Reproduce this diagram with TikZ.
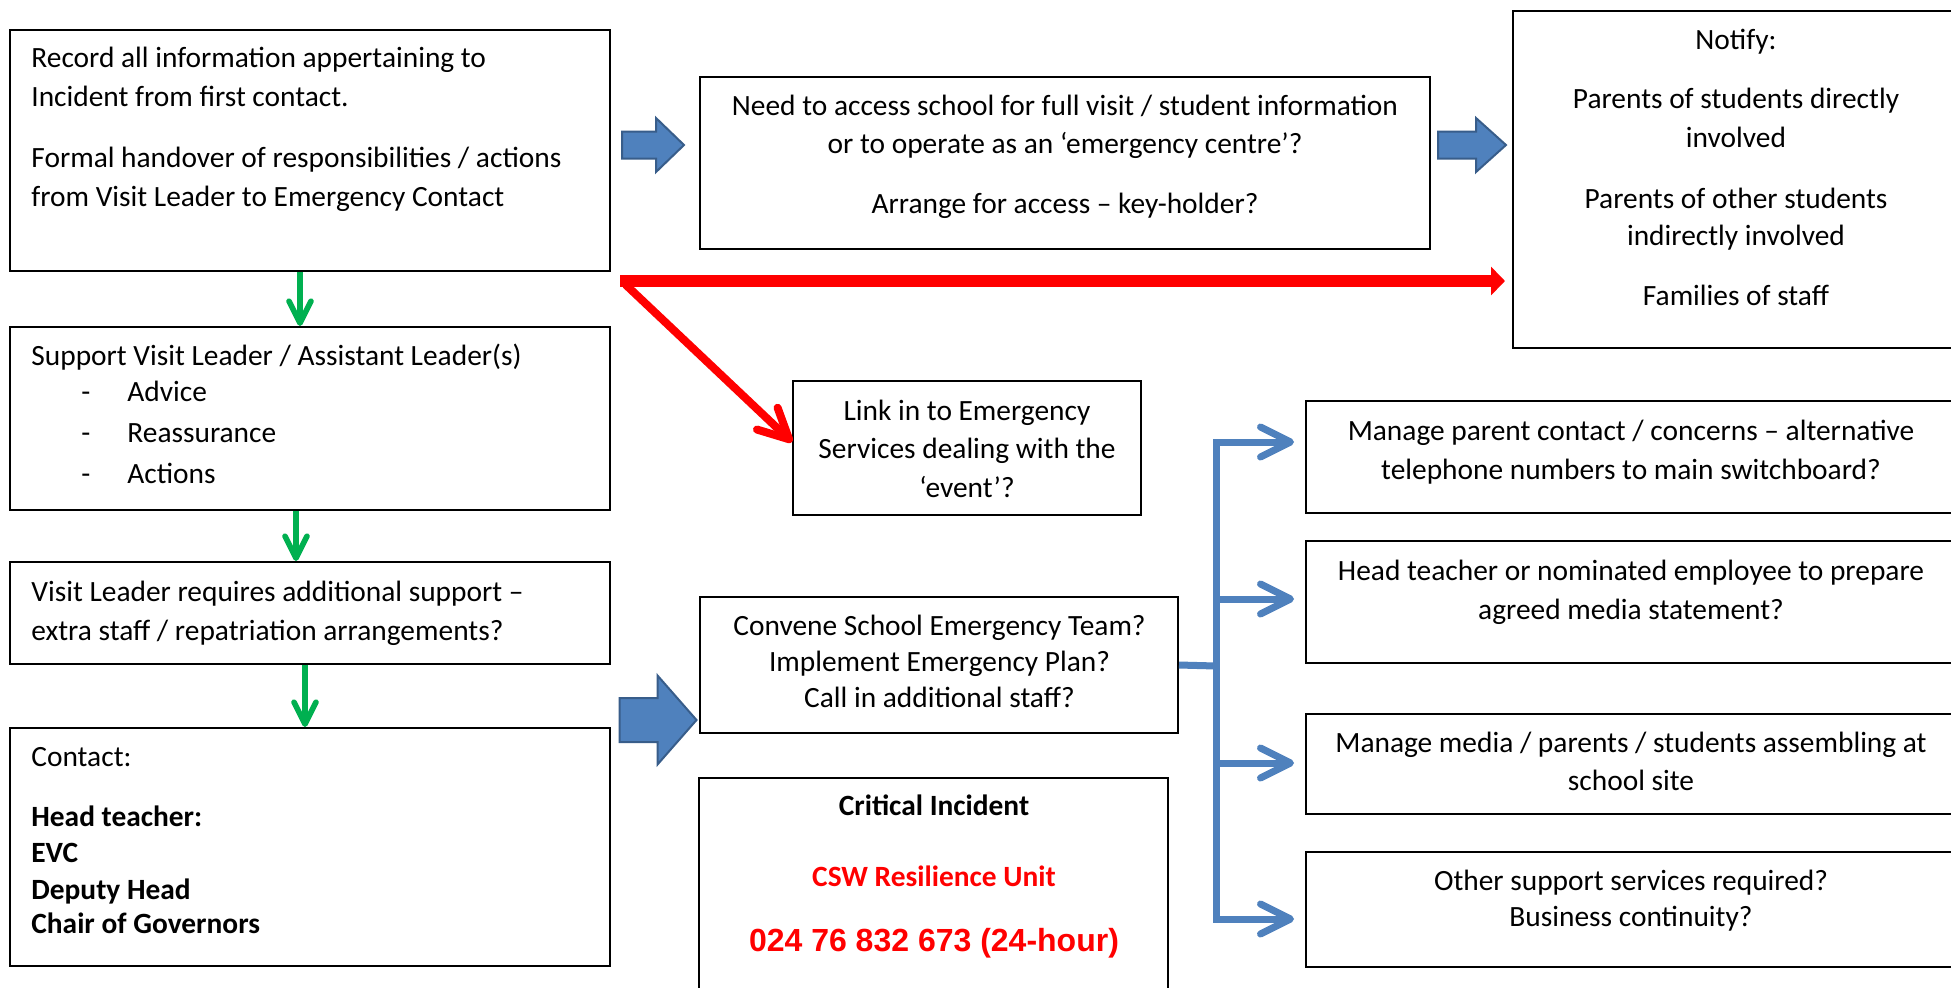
\documentclass[tikz,border=0pt]{standalone}
\usepackage{fontspec}
\setmainfont{Carlito}
\newfontfamily\arialfont{Liberation Sans}
\usetikzlibrary{arrows.meta,fit,calc}
\definecolor{fatfill}{HTML}{4F81BD}
\definecolor{fatedge}{HTML}{385D8A}
\definecolor{grn}{HTML}{00B050}
\definecolor{rd}{HTML}{FF0000}
\begin{document}
\begin{tikzpicture}[x=0.5pt,y=-0.5pt,
  box/.style={draw=black, line width=1pt, inner sep=0pt},
  tl/.style={inner sep=0pt, anchor=base west, font=\fontsize{14.7}{18}\selectfont},
  tc/.style={inner sep=0pt, anchor=base, font=\fontsize{14.7}{18}\selectfont},
  fat/.style={fill=fatfill, draw=fatedge, line width=1pt, line join=miter},
  garrow/.style={draw=grn, line width=2.8pt, -{Straight Barb[length=11pt,width=11pt,round]}},
  rline/.style={draw=rd, line width=6pt, -{Triangle[length=7pt,width=14pt]}},
  rdiag/.style={draw=rd, line width=4pt, line cap=round, -{Straight Barb[length=15pt,width=15pt,round]}},
  barrow/.style={draw=fatfill, line width=3.5pt, -{Straight Barb[length=15pt,width=15pt,round]}},
]
\useasboundingbox (0,0) rectangle (1951,987);
\fill[white] (0,0) rectangle (1951,987);

% boxes
\node[box, fit={(10,30)(610,271)}] (b1) {};
\node[box, fit={(700,77)(1430,249)}] (b2) {};
\node[box, fit={(1513,11)(1962,348)}] (b3) {};
\node[box, fit={(10,327)(610,510)}] (b4) {};
\node[box, fit={(10,562)(610,664)}] (b5) {};
\node[box, fit={(10,728)(610,966)}] (b6) {};
\node[box, fit={(700,597)(1178,733)}] (b7) {};
\node[box, fit={(699,778)(1168,1000)}] (b8) {};
\node[box, fit={(793,381)(1141,515)}] (b9) {};
\node[box, fit={(1306,401)(1962,513)}] (b10) {};
\node[box, fit={(1306,541)(1962,663)}] (b11) {};
\node[box, fit={(1306,714)(1962,814)}] (b12) {};
\node[box, fit={(1306,852)(1962,967)}] (b13) {};

% texts box 1
\node[tl] (t1a) at (31,67.5) {Record all information appertaining to};
\node[tl] (t1b) at (31,106) {Incident from first contact.};
\node[tl] (t1c) at (31,167) {Formal handover of responsibilities / actions};
\node[tl] (t1d) at (31,206) {from Visit Leader to Emergency Contact};
% box 2
\node[tc] (t2a) at (1065,115) {Need to access school for full visit / student information};
\node[tc] (t2b) at (1065,153) {or to operate as an ‘emergency centre’?};
\node[tc] (t2c) at (1065,213) {Arrange for access – key-holder?};
% box 3
\node[tc] (t3a) at (1736,49) {Notify:};
\node[tc] (t3b) at (1736,108.5) {Parents of students directly};
\node[tc] (t3c) at (1736,147) {involved};
\node[tc] (t3d) at (1736,208) {Parents of other students};
\node[tc] (t3e) at (1736,245.5) {indirectly involved};
\node[tc] (t3f) at (1736,305) {Families of staff};
% box 4
\node[tl] (t4a) at (31,365) {Support Visit Leader / Assistant Leader(s)};
\node[tl] (t4b) at (81,401) {-};
\node[tl] (t4c) at (127,401) {Advice};
\node[tl] (t4d) at (81,442) {-};
\node[tl] (t4e) at (127,442) {Reassurance};
\node[tl] (t4f) at (81,483) {-};
\node[tl] (t4g) at (127,483) {Actions};
% box 5
\node[tl] (t5a) at (31,601) {Visit Leader requires additional support –};
\node[tl] (t5b) at (31,640) {extra staff / repatriation arrangements?};
% box 6
\node[tl] (t6a) at (31,766) {Contact:};
\node[tl, font=\fontsize{14.7}{18}\selectfont\bfseries] (t6b) at (31,826.5) {Head teacher:};
\node[tl, font=\fontsize{14.7}{18}\selectfont\bfseries] (t6c) at (31,862.6) {EVC};
\node[tl, font=\fontsize{14.7}{18}\selectfont\bfseries] (t6d) at (31,899) {Deputy Head};
\node[tl, font=\fontsize{14.7}{18}\selectfont\bfseries] (t6e) at (31,933.5) {Chair of Governors};
% box 7
\node[tc] (t7a) at (939.5,635) {Convene School Emergency Team?};
\node[tc] (t7b) at (939.5,671) {Implement Emergency Plan?};
\node[tc] (t7c) at (939.5,707) {Call in additional staff?};
% box 8
\node[tc, font=\fontsize{14.7}{18}\selectfont\bfseries] (t8a) at (934,815) {Critical Incident};
\node[tc, text=rd, font=\fontsize{14.7}{18}\selectfont\bfseries] (t8b) at (934,886) {CSW Resilience Unit};
\node[tc, text=rd, font=\arialfont\fontsize{16}{19}\selectfont\bfseries] (t8c) at (934,951) {024 76 832 673 (24-hour)};
% box 9
\node[tc] (t9a) at (967,420) {Link in to Emergency};
\node[tc] (t9b) at (967,458) {Services dealing with the};
\node[tc] (t9c) at (967,497) {‘event’?};
% right boxes
\node[tc] (t10a) at (1631,440) {Manage parent contact / concerns – alternative};
\node[tc] (t10b) at (1631,479) {telephone numbers to main switchboard?};
\node[tc] (t11a) at (1631,580) {Head teacher or nominated employee to prepare};
\node[tc] (t11b) at (1631,619) {agreed media statement?};
\node[tc] (t12a) at (1631,752) {Manage media / parents / students assembling at};
\node[tc] (t12b) at (1631,790) {school site};
\node[tc] (t13a) at (1631,890) {Other support services required?};
\node[tc] (t13b) at (1631,926) {Business continuity?};

% fat blue arrows
\coordinate (f1) at (653,145);
\coordinate (f2) at (1472,145);
\coordinate (f3) at (658,720);
\draw[fat] (f1) ++(-31,-13.5) -- ++(34,0) -- ++(0,-13.5) -- ++(28,27) -- ++(-28,27) -- ++(0,-13.5) -- ++(-34,0) -- cycle;
\draw[fat] (f2) ++(-34,-13.5) -- ++(38,0) -- ++(0,-13.5) -- ++(30,27) -- ++(-30,27) -- ++(0,-13.5) -- ++(-38,0) -- cycle;
\draw[fat] (f3) ++(-38.5,-22) -- ++(38,0) -- ++(0,-22.5) -- ++(39,44.5) -- ++(-39,44.5) -- ++(0,-22.5) -- ++(-38,0) -- cycle;

% green arrows
\draw[garrow] ([xshift=-5pt]b1.south) -- ([xshift=-5pt]b4.north);
\draw[garrow] ([xshift=-7pt]b4.south) -- ([xshift=-7pt]b5.north);
\draw[garrow] ([xshift=-2.5pt]b5.south) -- ([xshift=-2.5pt]b6.north);

% red arrows
\coordinate (rs) at (620,281);
\draw[rline] (rs) -- ([xshift=-3.5pt]rs -| b3.west);
\draw[rdiag] (626,285) -- ([yshift=3pt]b9.west);

% blue bracket
\coordinate (j) at (1216,666);
\coordinate (e1) at (1294,442);
\coordinate (e2) at (1294,599);
\coordinate (e3) at (1294,763);
\coordinate (e4) at (1294,919);
\draw[draw=fatfill, line width=3.5pt] (b7.east) -- (j);
\draw[barrow] (j) |- (e1);
\draw[barrow] (j) |- (e2);
\draw[barrow] (j) |- (e3);
\draw[barrow] (j) |- (e4);
\end{tikzpicture}
\end{document}
